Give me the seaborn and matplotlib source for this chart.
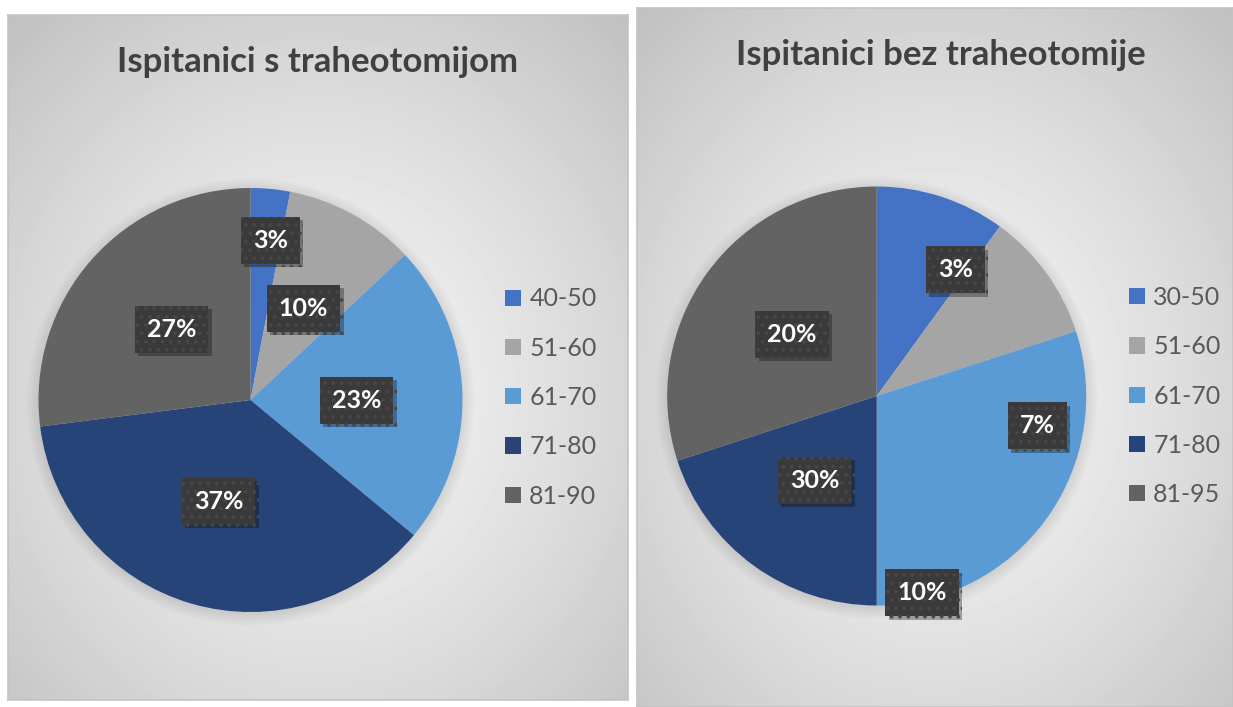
import numpy as np
import matplotlib.pyplot as plt
import matplotlib.patheffects as pe
from matplotlib.patches import Circle
import seaborn as sns

# data
titles = ['Ispitanici s traheotomijom', 'Ispitanici bez traheotomije']
left_groups = ['40-50', '51-60', '61-70', '71-80', '81-90']
left_values = [3, 10, 23, 37, 27]
left_labels = ['3%', '10%', '23%', '37%', '27%']
right_groups = ['30-50', '51-60', '61-70', '71-80', '81-95']
right_values = [10, 10, 30, 20, 30]
right_labels = ['3%', '7%', '10%', '30%', '20%']

# label placement (angle clockwise from top in degrees, radius as fraction of pie)
left_place = [(7, 0.76), (30, 0.50), (90, 0.50), (197.6, 0.50), (311.8, 0.50)]
right_place = [(32, 0.71), (100.5, 0.78), (167, 0.965), (216.3, 0.50), (306.2, 0.50)]

sns.set_theme(style='white')
plt.rcParams['font.family'] = ['Lato', 'DejaVu Sans']
plt.rcParams['hatch.linewidth'] = 1.5
palette = sns.color_palette(['#4472C4', '#A5A5A5', '#5B9BD5', '#264478', '#636363'])

W, H = 1233, 707
fig = plt.figure(figsize=(W / 100, H / 100), dpi=100)
fig.patch.set_facecolor('white')


def rect(x0, y0, x1, y1):
    return [x0 / W, 1 - y1 / H, (x1 - x0) / W, (y1 - y0) / H]


def panel(x0, y0, x1, y1):
    ax = fig.add_axes(rect(x0, y0, x1, y1), zorder=0)
    w, h = int(x1 - x0), int(y1 - y0)
    yy, xx = np.mgrid[0:h, 0:w]
    d = np.sqrt(((xx - w / 2) / (w / 2)) ** 2 + ((yy - h * 0.55) / (h / 2)) ** 2) / np.sqrt(2)
    v = np.clip(0.965 - 0.20 * d ** 1.3, 0, 1)
    ax.imshow(v, cmap='gray', vmin=0, vmax=1, aspect='auto', interpolation='bilinear')
    ax.set_xticks([])
    ax.set_yticks([])
    for s in ax.spines.values():
        s.set_color('#c4c4c4')
        s.set_linewidth(1.2)


def pie_chart(cx, cy, R, values, groups, labels, place, title, tx, ty, lx, ly):
    ax = fig.add_axes(rect(cx - R, cy - R, cx + R, cy + R), zorder=2)
    ax.set_axis_off()
    # soft shadow under the pie
    for i in range(8):
        ax.add_patch(Circle((0.0, -0.01), 1 + 0.008 * i, color='black', alpha=0.012,
                            zorder=0, clip_on=False, lw=0))
    wedges, _ = ax.pie(values, colors=palette, startangle=90, counterclock=False,
                       radius=1, wedgeprops=dict(linewidth=0))
    ax.set_xlim(-1, 1)
    ax.set_ylim(-1, 1)
    ax.set_aspect('equal')
    for txt, (ang, r) in zip(labels, place):
        a = np.deg2rad(ang)
        t = ax.text(r * np.sin(a), r * np.cos(a), txt, ha='center', va='center',
                    color='white', fontsize=18, fontweight='bold', zorder=5,
                    bbox=dict(boxstyle='square,pad=0.48', fc='#3a3a3a', ec='#474747',
                              lw=0, hatch='..'))
        t.get_bbox_patch().set_path_effects(
            [pe.SimplePatchShadow(offset=(2.5, -2.5), shadow_rgbFace='black', alpha=0.3),
             pe.Normal()])
    fig.text(tx / W, 1 - ty / H, title, ha='center', va='center', fontsize=25,
             fontweight='bold', color='#404040')
    ax.legend(wedges, groups, loc='center left', bbox_to_anchor=(lx / W, 1 - ly / H),
              bbox_transform=fig.transFigure, frameon=False, fontsize=18,
              labelcolor='#595959', borderpad=0, borderaxespad=0,
              handlelength=0.62, handleheight=0.62, handletextpad=0.35,
              labelspacing=1.05)


panel(8, 15, 628, 700)
panel(637, 8, 1233, 707)

pie_chart(250.5, 400, 212, left_values, left_groups, left_labels, left_place,
          titles[0], 318, 62, 505, 397.5)
pie_chart(876.7, 396, 209.5, right_values, right_groups, right_labels, right_place,
          titles[1], 941, 55, 1129, 396)

fig.savefig('out.png', dpi=100)
